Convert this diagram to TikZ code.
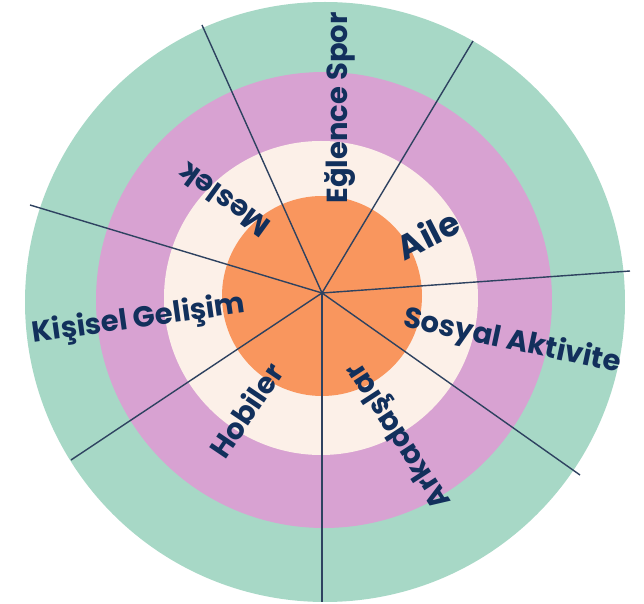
\documentclass[tikz,border=0pt]{standalone}
\usepackage{fontspec}
\setmainfont{Poppins}
\usepackage{tikz}
\definecolor{ring1}{HTML}{A7D8C6}
\definecolor{ring2}{HTML}{D8A2D2}
\definecolor{ring3}{HTML}{FCF0E8}
\definecolor{ring4}{HTML}{F9965E}
\definecolor{ink}{HTML}{12305C}
\definecolor{spoke}{HTML}{2E4260}
\tikzset{
  ring/.style={draw=none},
  lbl/.style={text=ink, inner sep=0pt, font=\fontsize{14.5}{18}\selectfont\bfseries},
  spokeline/.style={draw=spoke, line width=0.7pt}
}

\begin{document}
\begin{tikzpicture}[x=0.5pt, y=-0.5pt]
\useasboundingbox (0,0) rectangle (644,604);
% rings
\fill[ring, ring1] (325,302) circle (300);
\fill[ring, ring2] (324,300) circle (228);
\fill[ring, ring3] (321,298) circle (157);
\fill[ring, ring4] (322,296) circle (100);
% spokes
\coordinate (hub) at (322,293);
\coordinate (e1) at (202,25);
\coordinate (e2) at (473,41);
\coordinate (e3) at (30,205);
\coordinate (e4) at (630,271);
\coordinate (e5) at (71,460);
\coordinate (e6) at (580,475);
\coordinate (e7) at (322,602);
\foreach \e in {e1,e2,e3,e4,e5,e6,e7}
  \draw[spokeline] (hub) -- (\e);
% labels
\node[lbl, rotate=90] (spor) at (340,108) {Eğlence Spor};
\node[lbl, rotate=144] (meslek) at (224,200) {Meslek};
\node[lbl, rotate=27, font=\fontsize{17}{20}\selectfont\bfseries] (aile) at (428,234) {Aile};
\node[lbl, rotate=-12] (sosyal) at (512,342) {Sosyal Aktivite};
\node[lbl, rotate=123] (arkadas) at (400,435) {Arkadaşlar};
\node[lbl, rotate=56] (hobi) at (246,410) {Hobiler};
\node[lbl, rotate=8] (kisisel) at (139,320) {Kişisel Gelişim};
\end{tikzpicture}
\end{document}
